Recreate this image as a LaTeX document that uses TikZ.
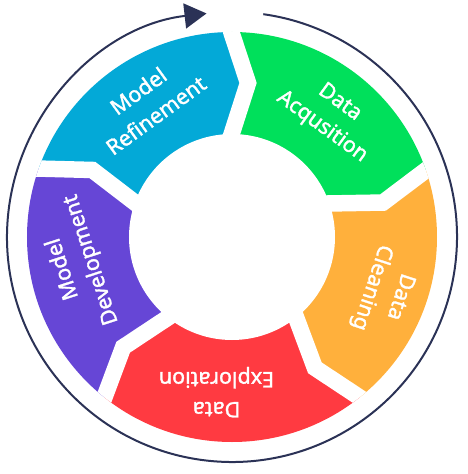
\documentclass[tikz,border=0pt]{standalone}
\usepackage{fontspec}
\setmainfont{Noto Sans}
\newfontfamily\stepfont{Noto Sans}[FakeBold=1.5]
\usetikzlibrary{arrows.meta}
\definecolor{cycleblue}{HTML}{03A9D7}
\definecolor{cyclegreen}{HTML}{00E05B}
\definecolor{cycleorange}{HTML}{FFB03C}
\definecolor{cyclered}{HTML}{FF3A41}
\definecolor{cyclepurple}{HTML}{6646D6}
\definecolor{cyclenavy}{HTML}{2B3256}

\begin{document}
\begin{tikzpicture}[x=1pt,y=1pt,
  steptext/.style={text=white, align=center, font=\stepfont\fontsize{21.5}{30}\selectfont, inner sep=0pt},
  seam/.style={white, line width=16.5pt, line join=miter},
  cyclearrow/.style={cyclenavy, line width=2pt, -{Triangle[length=22pt,width=25pt]}}]
\useasboundingbox (-232,-237) rectangle (235,237);

% chevron boundaries between the steps: outer end, tip, inner end, far point
\foreach \n/\a in {1/90.2,2/19,3/-51.5,4/-128.5,5/160.5}{
  \begin{scope}[rotate=\a]
    \coordinate (o\n) at (215,3.25);
    \coordinate (t\n) at (154,-16.57);
    \coordinate (i\n) at (93,3.25);
    \coordinate (f\n) at (330,0);
  \end{scope}
}
\coordinate (c) at (0,0);

% ring of coloured steps
\begin{scope}
  \clip (c) circle[radius=205];
  \foreach \p/\q/\col in {1/2/cyclegreen, 2/3/cycleorange, 3/4/cyclered, 4/5/cyclepurple, 5/1/cycleblue}
    \fill[\col] (f\p) -- (o\p) -- (t\p) -- (i\p) -- (c) -- (i\q) -- (t\q) -- (o\q) -- (f\q) -- cycle;
  \foreach \n in {1,...,5}
    \draw[seam] (o\n) -- (t\n) -- (i\n);
\end{scope}
\fill[white] (c) circle[radius=103];

% outer cycle arrow
\coordinate (arcstart) at (82:225);
\draw[cyclearrow] (arcstart) arc[start angle=82, end angle=-263.5, radius=225];

% step labels
\node[steptext, rotate=36]   (refine)  at (122.4:158.7) {Model\\Refinement};
\node[steptext, rotate=-36]  (acquire) at (51:157)      {Data\\Acqusition};
\node[steptext, rotate=-108] (clean)   at (-19.7:163)   {Data\\Cleaning};
\node[steptext, rotate=180]  (explore) at (-95.7:156)   {Data\\Exploration};
\node[steptext, rotate=108]  (develop) at (190:157)     {Model\\Development};
\end{tikzpicture}
\end{document}
